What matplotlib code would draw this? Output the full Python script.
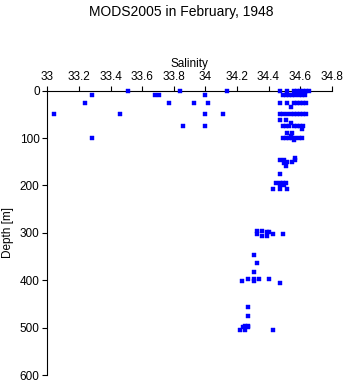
import matplotlib
matplotlib.use("Agg")
import matplotlib.pyplot as plt

plt.rcParams['font.family'] = ['Liberation Sans', 'DejaVu Sans']

salinity = [
    33.51, 33.84, 34.14, 34.47, 34.52, 34.56, 34.58, 34.60, 34.62, 34.64, 34.655,
    33.28, 33.68, 33.71, 34.00, 34.49, 34.51, 34.53, 34.55, 34.57, 34.59, 34.61, 34.63,
    33.24, 33.77, 33.93, 34.02, 34.47, 34.52, 34.56, 34.58, 34.60, 34.62, 34.64,
    34.54,
    33.04, 33.46, 34.00, 34.11, 34.47, 34.49, 34.52, 34.54, 34.56, 34.58, 34.60, 34.62, 34.64,
    34.47, 34.51,
    34.54,
    33.86, 34.00, 34.49, 34.51, 34.53, 34.56, 34.58, 34.60, 34.62,
    34.61, 34.52, 34.55, 34.54,
    33.28, 34.49, 34.51, 34.53, 34.55, 34.57, 34.59, 34.61,
    34.56,
    34.47, 34.50, 34.57, 34.55, 34.52, 34.50, 34.51, 34.57,
    34.47,
    34.45, 34.47, 34.49, 34.51, 34.47, 34.50, 34.43, 34.47, 34.52,
    34.33, 34.36, 34.39, 34.40, 34.33, 34.43, 34.49, 34.36, 34.39,
    34.31, 34.33, 34.31,
    34.27, 34.31, 34.34, 34.40, 34.23, 34.31, 34.47,
    34.27, 34.27,
    34.25, 34.27, 34.24, 34.27, 34.22, 34.25, 34.43,
]
depth = [
    0, 0, 0, 0, 0, 0, 0, 0, 0, 0, 0,
    10, 10, 10, 10, 10, 10, 10, 10, 10, 10, 10, 10,
    25, 25, 25, 25, 25, 25, 25, 25, 25, 25, 25,
    35,
    50, 50, 50, 50, 50, 50, 50, 50, 50, 50, 50, 50, 50,
    61, 61,
    69,
    75, 75, 75, 75, 75, 75, 75, 75, 75,
    81, 90, 90, 96,
    100, 100, 100, 100, 100, 100, 100, 100,
    104,
    146, 146, 146, 150, 150, 153, 158, 142,
    176,
    195, 195, 195, 195, 199, 199, 207, 207, 207,
    296, 296, 299, 299, 303, 303, 303, 306, 306,
    347, 364, 382,
    398, 398, 398, 398, 402, 402, 406,
    457, 475,
    496, 496, 499, 499, 505, 505, 505,
]

x_ticks = [33, 33.2, 33.4, 33.6, 33.8, 34, 34.2, 34.4, 34.6, 34.8]
x_labels = ['33', '33.2', '33.4', '33.6', '33.8', '34', '34.2', '34.4', '34.6', '34.8']
y_ticks = [0, 100, 200, 300, 400, 500, 600]

fig = plt.figure(figsize=(3.46, 3.84), dpi=100)
ax = fig.add_axes([47.3 / 346, 1 - 375 / 384, (331.7 - 47.3) / 346, (375 - 90.7) / 384])
ax.plot(salinity, depth, linestyle='none', marker='s', markersize=2.4,
        markerfacecolor='#0000ff', markeredgecolor='#0000ff', markeredgewidth=0.3,
        clip_on=False, zorder=3)
ax.set_xlim(33, 34.8)
ax.set_ylim(600, 0)
ax.xaxis.tick_top()
ax.xaxis.set_label_position('top')
ax.set_xticks(x_ticks)
ax.set_xticklabels(x_labels)
ax.set_yticks(y_ticks)
ax.tick_params(direction='out', length=3.5, width=0.8, labelsize=8.5, pad=2, colors='black')
for s in ['right', 'bottom']:
    ax.spines[s].set_visible(False)
for s in ['left', 'top']:
    ax.spines[s].set_linewidth(0.8)
ax.set_xlabel('Salinity', fontsize=8.5, labelpad=3)
ax.set_ylabel('Depth [m]', fontsize=8.5, labelpad=4)
fig.text(181 / 346, 1 - 12 / 384, 'MODS2005 in February, 1948', ha='center', va='center', fontsize=10)

fig.savefig('out.png', dpi=100)
